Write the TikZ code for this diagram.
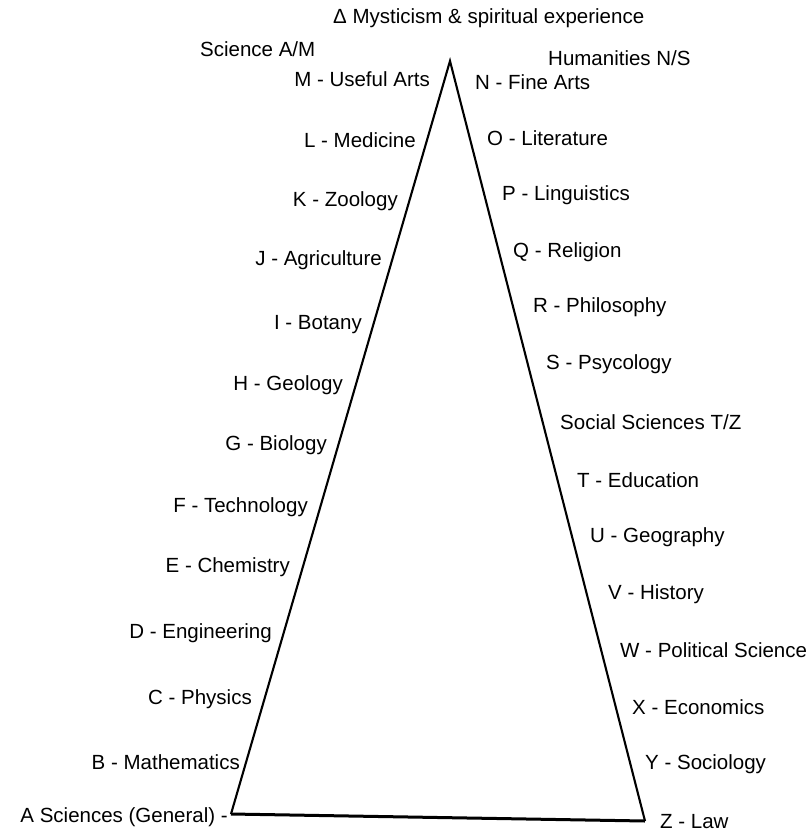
\documentclass[tikz,border=0pt]{standalone}
\usepackage{fontspec}
\setmainfont{Liberation Sans}
\begin{document}
\begin{tikzpicture}[x=1pt,y=-1pt,
  lbl/.style={font=\fontsize{20.5}{23}\selectfont, inner sep=0pt},
  lft/.style={lbl, anchor=base east},
  rgt/.style={lbl, anchor=base west},
  edge/.style={line width=2.1pt, line join=miter}]
\useasboundingbox (0,0) rectangle (809,833);
\coordinate (apex) at (450,61);
\coordinate (bl) at (231,814);
\coordinate (br) at (645,821);
\draw[edge] (bl) -- (apex) -- (br);
\draw[line width=3pt] (bl) -- (br);
% top labels
\node[lbl, anchor=base west] (top) at (333,23) {Δ Mysticism \& spiritual experience};
\node[lbl, anchor=base west] (sci) at (200,56) {Science A/M};
\node[lbl, anchor=base west] (hum) at (548,65) {Humanities N/S};
% left labels
\node[lft] (m) at (430,86) {M - Useful Arts};
\node[lft] (l) at (416,147) {L - Medicine};
\node[lft] (k) at (398,206) {K - Zoology};
\node[lft] (j) at (382,265) {J - Agriculture};
\node[lft] (i) at (362,329) {I - Botany};
\node[lft] (h) at (343,390) {H - Geology};
\node[lft] (g) at (327,450) {G - Biology};
\node[lft] (f) at (308,512) {F - Technology};
\node[lft] (e) at (290,572) {E - Chemistry};
\node[lft] (d) at (272,638) {D - Engineering};
\node[lft] (c) at (252,704) {C - Physics};
\node[lft] (b) at (240,769) {B - Mathematics};
\node[lft] (a) at (228,822) {A Sciences (General) -};
% right labels
\node[rgt] (n) at (475,89) {N - Fine Arts};
\node[rgt] (o) at (487,145) {O - Literature};
\node[rgt] (p) at (502,200) {P - Linguistics};
\node[rgt] (q) at (513,257) {Q - Religion};
\node[rgt] (r) at (533,312) {R - Philosophy};
\node[rgt] (s) at (546,369) {S - Psycology};
\node[rgt] (ss) at (560,429) {Social Sciences T/Z};
\node[rgt] (t) at (577,487) {T - Education};
\node[rgt] (u) at (590,542) {U - Geography};
\node[rgt] (v) at (608,599) {V - History};
\node[rgt] (w) at (620,657) {W - Political Science};
\node[rgt] (x) at (632,714) {X - Economics};
\node[rgt] (y) at (645,769) {Y - Sociology};
\node[rgt] (z) at (660,828) {Z - Law};
\end{tikzpicture}
\end{document}
